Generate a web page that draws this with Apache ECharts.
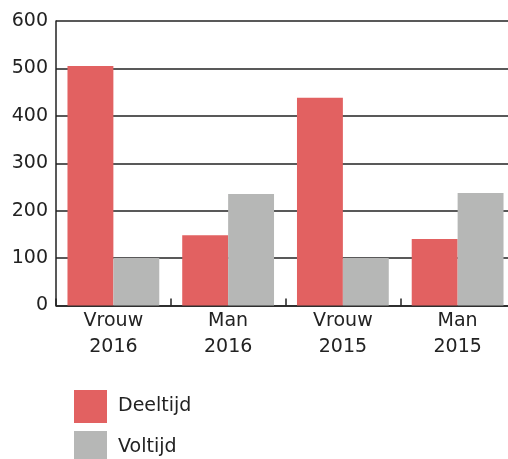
<!DOCTYPE html>
<html>
<head>
<meta charset="utf-8">
<script src="https://cdn.jsdelivr.net/npm/echarts@6/dist/echarts.min.js"></script>
<style>
html, body { margin: 0; padding: 0; background: #fff; }
#chart { width: 508px; height: 459px; }
</style>
</head>
<body>
<div id="chart"></div>
<script>
var categories = ['Vrouw\n2016', 'Man\n2016', 'Vrouw\n2015', 'Man\n2015'];
var deeltijd = [505, 148, 438, 140];
var voltijd = [100, 235, 100, 237];
var yTicks = [0, 100, 200, 300, 400, 500, 600];

var chart = echarts.init(document.getElementById('chart'));
var font = 'DejaVu Sans';
var legendText = {
    fontFamily: font,
    fontSize: 19,
    color: '#222',
    padding: [0, 0, 0, 6]
};
var option = {
    animation: false,
    grid: {
        left: 56,
        top: 21,
        width: 459,
        height: 284.5,
        outerBoundsMode: 'none',
        containLabel: false
    },
    legend: [
        {
            left: 74, top: 390, padding: 0,
            itemWidth: 33, itemHeight: 33,
            icon: 'rect',
            textStyle: legendText,
            data: ['Deeltijd']
        },
        {
            left: 74, top: 431, padding: 0,
            itemWidth: 33, itemHeight: 33,
            icon: 'rect',
            textStyle: legendText,
            data: ['Voltijd']
        }
    ],
    xAxis: {
        type: 'category',
        data: categories,
        axisLine: { lineStyle: { color: '#222', width: 1.5 } },
        axisTick: { show: true, inside: true, length: 7, lineStyle: { color: '#222', width: 1.5 } },
        axisLabel: {
            fontFamily: font,
            fontSize: 19,
            color: '#222',
            lineHeight: 26,
            margin: 3
        }
    },
    yAxis: {
        type: 'value',
        min: yTicks[0],
        max: yTicks[yTicks.length - 1],
        interval: 100,
        axisLine: { show: true, lineStyle: { color: '#222', width: 1.5 } },
        axisTick: { show: false },
        splitLine: { lineStyle: { color: '#222', width: 1.5 } },
        axisLabel: {
            fontFamily: font,
            fontSize: 19,
            color: '#222',
            margin: 8
        }
    },
    series: [
        {
            name: 'Deeltijd',
            type: 'bar',
            data: deeltijd,
            barGap: '0%',
            barCategoryGap: '20%',
            itemStyle: { color: '#e26161' }
        },
        {
            name: 'Voltijd',
            type: 'bar',
            data: voltijd,
            itemStyle: { color: '#b6b7b6' }
        }
    ]
};
chart.setOption(option);
</script>
</body>
</html>
